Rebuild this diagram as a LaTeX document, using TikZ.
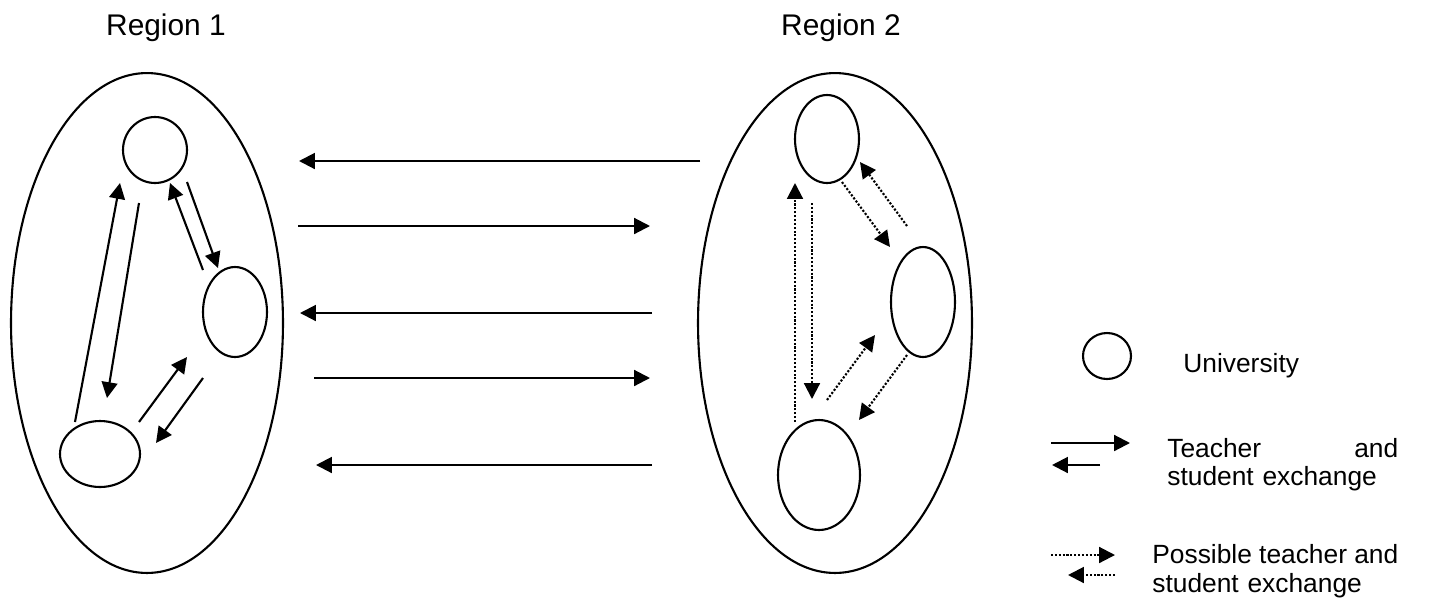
\documentclass[tikz,border=0pt]{standalone}
\usepackage{fontspec}
\setmainfont{Liberation Sans}
\usepackage{tikz}
\usetikzlibrary{arrows.meta}
\usetikzlibrary{shapes.geometric}

\tikzset{
  region/.style={draw, ellipse, inner sep=0pt, line width=1.2pt},
  uni/.style={draw, ellipse, inner sep=0pt, line width=1.2pt},
  tse/.style={line width=1.2pt, -{Triangle[length=9pt, width=9pt]}},
  pte/.style={tse, densely dotted},
  title/.style={anchor=base, font=\fontsize{17}{20}\selectfont},
  legend/.style={anchor=base west, inner sep=0pt, align=left,
    font=\fontsize{15}{16.5}\selectfont}
}

\begin{document}
\begin{tikzpicture}[x=0.02cm, y=-0.02cm]
    \useasboundingbox (0,0) rectangle (1434,603);

    % Titres
    \node[title] (t1) at (166,35) {Region 1};
    \node[title] (t2) at (841,35) {Region 2};

    % Regions
    \node[region, minimum width=5.44cm, minimum height=10cm] (r1) at (147,323) {};
    \node[region, minimum width=5.48cm, minimum height=10cm] (r2) at (835,323) {};

    % Universites, region 1
    \node[uni, minimum width=1.28cm, minimum height=1.32cm] (a1) at (155,150) {};
    \node[uni, minimum width=1.28cm, minimum height=1.8cm] (b1) at (235,312) {};
    \node[uni, minimum width=1.6cm, minimum height=1.32cm] (c1) at (100,454) {};

    % Universites, region 2
    \node[uni, minimum width=1.28cm, minimum height=1.76cm] (a2) at (827,139) {};
    \node[uni, minimum width=1.28cm, minimum height=2.2cm] (b2) at (923,302) {};
    \node[uni, minimum width=1.64cm, minimum height=2.2cm] (c2) at (819,475) {};

    % Extremites des fleches, region 1
    \coordinate (ca1s) at (75,422);  \coordinate (ca1e) at (120,183);
    \coordinate (ac1s) at (139,203); \coordinate (ac1e) at (107,398);
    \coordinate (ab1s) at (187,182); \coordinate (ab1e) at (218,268);
    \coordinate (ba1s) at (203,270); \coordinate (ba1e) at (170,183);
    \coordinate (cb1s) at (139,422); \coordinate (cb1e) at (187,357);
    \coordinate (bc1s) at (203,378); \coordinate (bc1e) at (156,443);

    % Extremites des fleches, region 2
    \coordinate (ca2s) at (795,422); \coordinate (ca2e) at (795,183);
    \coordinate (ac2s) at (812,203); \coordinate (ac2e) at (812,399);
    \coordinate (ab2s) at (842,182); \coordinate (ab2e) at (890,247);
    \coordinate (ba2s) at (907,226); \coordinate (ba2e) at (860,162);
    \coordinate (cb2s) at (827,400); \coordinate (cb2e) at (875,335);
    \coordinate (bc2s) at (907,355); \coordinate (bc2e) at (859,420);

    % Echanges entre les regions
    \coordinate (x1s) at (700,161); \coordinate (x1e) at (299,161);
    \coordinate (x2s) at (298,226); \coordinate (x2e) at (650,226);
    \coordinate (x3s) at (652,313); \coordinate (x3e) at (300,313);
    \coordinate (x4s) at (314,378); \coordinate (x4e) at (650,378);
    \coordinate (x5s) at (652,465); \coordinate (x5e) at (316,465);

    % Fleches pleines
    \draw[tse] (ca1s) -- (ca1e);
    \draw[tse] (ac1s) -- (ac1e);
    \draw[tse] (ab1s) -- (ab1e);
    \draw[tse] (ba1s) -- (ba1e);
    \draw[tse] (cb1s) -- (cb1e);
    \draw[tse] (bc1s) -- (bc1e);
    \draw[tse] (x1s) -- (x1e);
    \draw[tse] (x2s) -- (x2e);
    \draw[tse] (x3s) -- (x3e);
    \draw[tse] (x4s) -- (x4e);
    \draw[tse] (x5s) -- (x5e);

    % Fleches pointillees
    \draw[pte] (ca2s) -- (ca2e);
    \draw[pte] (ac2s) -- (ac2e);
    \draw[pte] (ab2s) -- (ab2e);
    \draw[pte] (ba2s) -- (ba2e);
    \draw[pte] (cb2s) -- (cb2e);
    \draw[pte] (bc2s) -- (bc2e);

    % Legende
    \node[uni, minimum width=0.96cm, minimum height=0.92cm] (lu) at (1107,356) {};
    \node[legend] (lut) at (1183,372) {University};

    \coordinate (l1s) at (1051,443); \coordinate (l1e) at (1130,443);
    \coordinate (l2s) at (1100,465); \coordinate (l2e) at (1052,465);
    \draw[tse] (l1s) -- (l1e);
    \draw[tse] (l2s) -- (l2e);
    \node[legend, text width=4.62cm] (lt) at (1167,457)
        {Teacher\hfill and\\student exchange};

    \coordinate (l3s) at (1051,555); \coordinate (l3e) at (1115,555);
    \coordinate (l4s) at (1115,575); \coordinate (l4e) at (1068,575);
    \draw[pte] (l3s) -- (l3e);
    \draw[pte] (l4s) -- (l4e);
    \node[legend, text width=4.92cm] (lp) at (1152,563)
        {Possible\hfill teacher\hfill and\\student exchange};
\end{tikzpicture}
\end{document}
